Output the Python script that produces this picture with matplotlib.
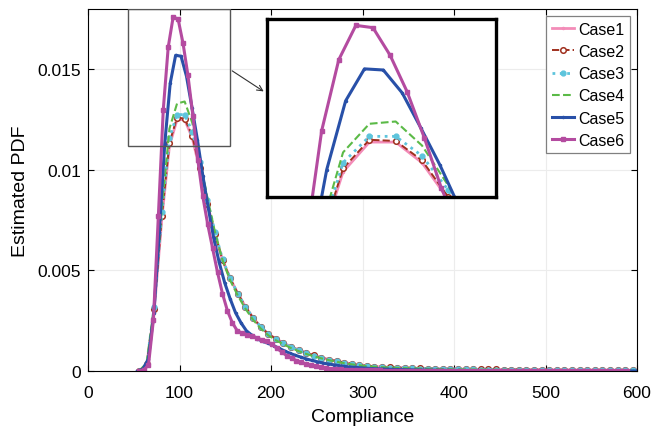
import numpy as np
import matplotlib
matplotlib.use("Agg")
import matplotlib.pyplot as plt
from matplotlib.patches import Rectangle
from matplotlib.ticker import FuncFormatter

plt.rcParams['font.family'] = ['Liberation Sans', 'DejaVu Sans']

# %%
# evaluation grids (each case has its own KDE grid)
x_c14 = np.linspace(55.8, 595.3, 66)   # cases 1-4
x_c5 = np.linspace(54.1, 601.5, 93)    # case 5
x_c6 = np.linspace(55.3, 589.0, 100)   # case 6

# estimated PDF values, in units of 1e-3
case1 = [0.0, 0.3, 3.0, 7.6, 11.2, 12.5, 12.5, 11.6, 10.0, 8.3,
         6.8, 5.5, 4.6, 3.85, 3.2, 2.65, 2.2, 1.85, 1.6, 1.4,
         1.2, 1.05, 0.9, 0.78, 0.67, 0.57, 0.49, 0.42, 0.35, 0.29,
         0.25, 0.22, 0.2, 0.18, 0.165, 0.15, 0.14, 0.13, 0.12, 0.11,
         0.105, 0.1, 0.095, 0.09, 0.086, 0.082, 0.078, 0.075, 0.072, 0.069,
         0.066, 0.063, 0.06, 0.057, 0.054, 0.051, 0.048, 0.046, 0.044, 0.042,
         0.04, 0.038, 0.036, 0.034, 0.032, 0.03]
case2 = [0.0, 0.35, 3.1, 7.7, 11.35, 12.6, 12.55, 11.7, 10.1, 8.3,
         6.8, 5.5, 4.6, 3.85, 3.2, 2.65, 2.2, 1.85, 1.6, 1.4,
         1.2, 1.05, 0.9, 0.78, 0.67, 0.57, 0.49, 0.42, 0.35, 0.29,
         0.25, 0.22, 0.2, 0.18, 0.165, 0.15, 0.14, 0.13, 0.12, 0.11,
         0.105, 0.1, 0.095, 0.09, 0.086, 0.082, 0.078, 0.075, 0.072, 0.069,
         0.066, 0.063, 0.06, 0.057, 0.054, 0.051, 0.048, 0.046, 0.044, 0.042,
         0.04, 0.038, 0.036, 0.034, 0.032, 0.03]
case3 = [0.0, 0.35, 3.2, 7.9, 11.6, 12.75, 12.75, 11.9, 10.4, 8.5,
         6.9, 5.55, 4.6, 3.85, 3.2, 2.65, 2.2, 1.85, 1.6, 1.38,
         1.18, 1.03, 0.88, 0.76, 0.65, 0.56, 0.48, 0.41, 0.34, 0.28,
         0.24, 0.21, 0.19, 0.17, 0.155, 0.14, 0.13, 0.12, 0.11, 0.1,
         0.095, 0.09, 0.086, 0.082, 0.078, 0.074, 0.07, 0.067, 0.064, 0.061,
         0.058, 0.055, 0.052, 0.05, 0.048, 0.046, 0.044, 0.042, 0.04, 0.038,
         0.036, 0.034, 0.032, 0.03, 0.028, 0.026]
case4 = [0.0, 0.4, 3.3, 8.1, 12.05, 13.3, 13.4, 12.35, 10.6, 8.6,
         6.9, 5.5, 4.5, 3.75, 3.1, 2.55, 2.12, 1.78, 1.53, 1.33,
         1.14, 0.99, 0.85, 0.73, 0.63, 0.54, 0.46, 0.39, 0.33, 0.28,
         0.24, 0.21, 0.19, 0.17, 0.155, 0.14, 0.13, 0.12, 0.11, 0.1,
         0.095, 0.09, 0.085, 0.08, 0.076, 0.072, 0.068, 0.065, 0.062, 0.059,
         0.056, 0.053, 0.05, 0.048, 0.046, 0.044, 0.042, 0.04, 0.038, 0.036,
         0.034, 0.032, 0.03, 0.028, 0.026, 0.025]
case5 = [0.0, 0.1, 0.6, 2.9, 6.9, 11.3, 14.3, 15.7, 15.65, 14.65,
         13.1, 11.5, 9.7, 8.1, 6.6, 5.4, 4.4, 3.6, 2.9, 2.4,
         2.0, 1.78, 1.6, 1.47, 1.38, 1.26, 1.13, 1.0, 0.88, 0.78,
         0.69, 0.6, 0.53, 0.46, 0.4, 0.35, 0.31, 0.27, 0.23, 0.2,
         0.18, 0.16, 0.14, 0.12, 0.11, 0.1, 0.09, 0.08, 0.07, 0.065,
         0.06, 0.055, 0.05, 0.045, 0.04, 0.037, 0.034, 0.031, 0.028, 0.026,
         0.024, 0.022, 0.02, 0.019, 0.018, 0.017, 0.016, 0.015, 0.014, 0.013,
         0.012, 0.011, 0.011, 0.01, 0.01, 0.009, 0.009, 0.008, 0.008, 0.007,
         0.007, 0.007, 0.006, 0.006, 0.006, 0.005, 0.005, 0.005, 0.005, 0.004,
         0.004, 0.004, 0.004]
case6 = [0.0, 0.05, 0.3, 2.55, 7.7, 13.0, 16.1, 17.6, 17.5, 16.3,
         14.7, 12.7, 10.5, 8.7, 7.3, 6.1, 4.9, 3.85, 3.0, 2.4,
         2.0, 1.88, 1.81, 1.74, 1.64, 1.55, 1.47, 1.33, 1.14, 0.95,
         0.77, 0.63, 0.52, 0.43, 0.35, 0.28, 0.23, 0.19, 0.15, 0.12,
         0.1, 0.08, 0.07, 0.06, 0.05, 0.045, 0.04, 0.035, 0.03, 0.027,
         0.024, 0.022, 0.02, 0.018, 0.016, 0.015, 0.014, 0.013, 0.012, 0.011,
         0.01, 0.009, 0.009, 0.008, 0.008, 0.007, 0.007, 0.006, 0.006, 0.006,
         0.005, 0.005, 0.005, 0.004, 0.004, 0.004, 0.004, 0.003, 0.003, 0.003,
         0.003, 0.003, 0.002, 0.002, 0.002, 0.002, 0.002, 0.002, 0.002, 0.001,
         0.001, 0.001, 0.001, 0.001, 0.001, 0.001, 0.001, 0.001, 0.001, 0.0]

labels = ['Case1', 'Case2', 'Case3', 'Case4', 'Case5', 'Case6']
xticks = [0, 100, 200, 300, 400, 500, 600]
yticks = [0, 0.005, 0.01, 0.015]

# %%
series = [
    (x_c14, case1, dict(color='#f38cb8', ls='-', lw=2.0, marker='.', ms=3)),
    (x_c14, case2, dict(color='#a0301e', ls='--', lw=1.4, marker='o', ms=4,
                        mfc='white', mew=1.1)),
    (x_c14, case3, dict(color='#5dc4dc', ls=':', lw=2.0, marker='o', ms=3.5)),
    (x_c14, case4, dict(color='#5bba47', ls='--', lw=1.5)),
    (x_c5, case5, dict(color='#2850a8', ls='-', lw=2.2, marker='.', ms=3)),
    (x_c6, case6, dict(color='#b44ba0', ls='-', lw=2.2, marker='s', ms=3.5)),
]

fig = plt.figure(figsize=(6.52, 4.27), dpi=100)
ax = fig.add_axes([0.135, 0.1288, 0.842, 0.8478])

handles = []
for (xs, ys, st), lab in zip(series, labels):
    h, = ax.plot(xs, np.array(ys) * 1e-3, label=lab, **st)
    handles.append(h)

ax.set_xlim(0, 600)
ax.set_ylim(0, 0.018)
ax.set_xticks(xticks)
ax.set_yticks(yticks)
ax.yaxis.set_major_formatter(FuncFormatter(lambda v, p: '%g' % v))
ax.tick_params(direction='in', top=True, right=True, labelsize=12.5,
               length=4, pad=5)
ax.tick_params(axis='x', pad=10)
ax.grid(True, color='#ececec', lw=0.8)
ax.set_axisbelow(True)
ax.set_xlabel('Compliance', fontsize=14, labelpad=6)
ax.set_ylabel('Estimated PDF', fontsize=14, labelpad=6)

leg = ax.legend(handles=handles, loc='upper right', fontsize=11.5,
                fancybox=False, edgecolor='#808080', framealpha=1,
                handlelength=1.4, labelspacing=0.45, borderaxespad=0.45,
                handletextpad=0.25, borderpad=0.35)
leg.get_frame().set_linewidth(0.9)

# zoom box and arrow
ax.add_patch(Rectangle((44, 0.0112), 111, 0.0068, fill=False,
                       ec='#555555', lw=1.0, zorder=5))
ax.annotate('', xy=(0.408, 0.780), xycoords='figure fraction',
            xytext=(155, 0.0150), textcoords='data',
            arrowprops=dict(arrowstyle='->', color='#333333', lw=0.8))

# inset
axin = fig.add_axes([0.4095, 0.5363, 0.351, 0.4169])
for xs, ys, st in series:
    axin.plot(xs, np.array(ys) * 1e-3, **st)
axin.set_xlim(65, 137.2)
axin.set_ylim(0.0101, 0.01788)
axin.set_xticks([])
axin.set_yticks([])
for s in axin.spines.values():
    s.set_linewidth(2.4)
    s.set_color('black')

fig.savefig('out.png', dpi=100)
